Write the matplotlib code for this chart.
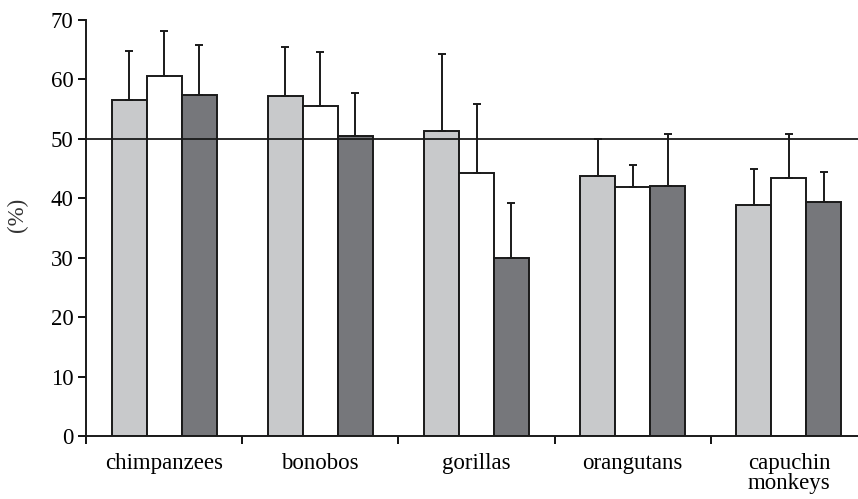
import matplotlib
matplotlib.use("Agg")
import matplotlib.pyplot as plt
import numpy as np

categories = ["chimpanzees", "bonobos", "gorillas", "orangutans", "capuchin\nmonkeys"]
series_light = [56.5, 57.2, 51.3, 43.7, 38.8]
series_white = [60.6, 55.6, 44.3, 41.9, 43.4]
series_dark = [57.4, 50.5, 30.0, 42.1, 39.3]
err_light = [8.3, 8.3, 12.9, 6.3, 6.1]
err_white = [7.5, 9.0, 11.5, 3.7, 7.4]
err_dark = [8.4, 7.3, 9.2, 8.8, 5.1]
yticks = [0, 10, 20, 30, 40, 50, 60, 70]
ref_value = 50

plt.rcParams['font.family'] = ['Liberation Serif']
FS = 16.5

fig = plt.figure(figsize=(8.58, 4.99), dpi=100)
ax = fig.add_axes([86/858, 1-436/499, 781/858, 416/499])

x = np.arange(len(categories))
w = 0.224
colors = ["#c8c9cb", "#ffffff", "#76777b"]
for i, (vals, errs) in enumerate([(series_light, err_light), (series_white, err_white), (series_dark, err_dark)]):
    pos = x + (i - 1) * w
    ax.bar(pos, vals, width=w, color=colors[i], edgecolor="#1a1a1a", linewidth=1.4, zorder=2)
    ax.errorbar(pos, vals, yerr=[np.zeros(len(vals)), errs], fmt="none", ecolor="#1a1a1a",
                elinewidth=1.4, capsize=3, capthick=1.4, zorder=3)

ax.axhline(ref_value, color="#1a1a1a", linewidth=1.3, zorder=4)

ax.set_xlim(-0.5, len(categories) - 0.5)
ax.set_ylim(0, 70)
ax.set_yticks(yticks)
ax.set_xticks(np.arange(len(categories) + 1) - 0.5)
ax.set_xticklabels([])
ax.set_xticks(x, minor=True)
ax.set_xticklabels(categories, minor=True, fontsize=FS, linespacing=0.95)
ax.tick_params(axis="x", which="minor", length=0, pad=12)
ax.tick_params(axis="x", which="major", direction="out", length=6, width=1.3)
ax.tick_params(axis="y", direction="out", length=6, width=1.3, labelsize=FS, pad=3)
for s in ["top", "right"]:
    ax.spines[s].set_visible(False)
for s in ["left", "bottom"]:
    ax.spines[s].set_linewidth(1.4)
    ax.spines[s].set_color("#1a1a1a")
ax.set_ylabel("(%)", fontsize=FS, color="#333333")
ax.yaxis.set_label_coords(-58/781, 0.531)

fig.savefig("out.png", dpi=100)
